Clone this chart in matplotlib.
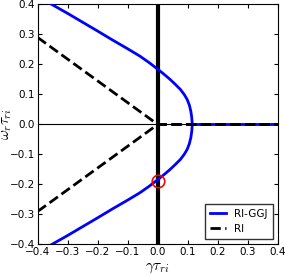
import numpy as np
import matplotlib
matplotlib.use("Agg")
from matplotlib import pyplot as plt

plt.rcParams['mathtext.fontset'] = 'cm'

# RI-GGJ curve, upper branch (gamma, omega)
ggj_gamma_up = [-0.353, -0.30, -0.20, -0.15, -0.10, -0.06, -0.03, 0.0, 0.02, 0.04,
                0.06, 0.075, 0.088, 0.098, 0.105, 0.110, 0.113, 0.115]
ggj_omega_up = [0.400, 0.370, 0.311, 0.281, 0.252, 0.228, 0.207, 0.184, 0.168, 0.151,
                0.132, 0.117, 0.100, 0.083, 0.065, 0.045, 0.025, 0.0]
# real branch on the axis after the turning point
ggj_gamma_flat = [0.115, 0.4]
ggj_omega_flat = [0.0, 0.0]

# RI (dashed)
ri_gamma = [-0.4, 0.0, 0.4]
ri_omega_up = [0.29, 0.0, 0.0]
ri_omega_lo = [-0.29, 0.0, 0.0]

# marked point
mark_gamma = [0.0]
mark_omega = [-0.187]

ticks = [-0.4, -0.3, -0.2, -0.1, 0.0, 0.1, 0.2, 0.3, 0.4]

fig = plt.figure(figsize=(2.85, 2.75), dpi=100)
ax = fig.add_axes([0.132, 0.111, 0.843, 0.873])

ax.axhline(0, color='k', lw=0.8, zorder=1)
ax.axvline(0, color='k', lw=3, zorder=2)

g_up = np.array(ggj_gamma_up)
w_up = np.array(ggj_omega_up)
g_all = np.concatenate([g_up, g_up[::-1]])
w_all = np.concatenate([w_up, -w_up[::-1]])
ax.plot(g_all, w_all, color='b', lw=2, label='RI-GGJ', zorder=3)
ax.plot(ggj_gamma_flat, ggj_omega_flat, color='b', lw=2, zorder=3)

ax.plot(ri_gamma, ri_omega_up, 'k--', lw=2, label='RI', zorder=4)
ax.plot(ri_gamma, ri_omega_lo, 'k--', lw=2, zorder=4)

ax.plot(mark_gamma, mark_omega, 'o', mfc='none', mec='r', ms=9, mew=1.2, zorder=5)

ax.set_xlim(-0.4, 0.4)
ax.set_ylim(-0.4, 0.4)
ax.set_xticks(ticks)
ax.set_yticks(ticks)
ax.tick_params(direction='in', top=True, right=True, labelsize=7.5, length=3, pad=2)
ax.set_xlabel(r'$\gamma\tau_{ri}$', fontsize=11)
ax.set_ylabel(r'$\omega_r\tau_{ri}$', fontsize=11)
ax.xaxis.set_label_coords(0.5, -0.065)
ax.yaxis.set_label_coords(-0.1, 0.5)

leg = ax.legend(loc='lower right', fontsize=7.5, fancybox=False, framealpha=1,
                handlelength=1.5, borderpad=0.5, labelspacing=0.5)
leg.get_frame().set_edgecolor('0.2')

fig.savefig('out.png', dpi=100)
